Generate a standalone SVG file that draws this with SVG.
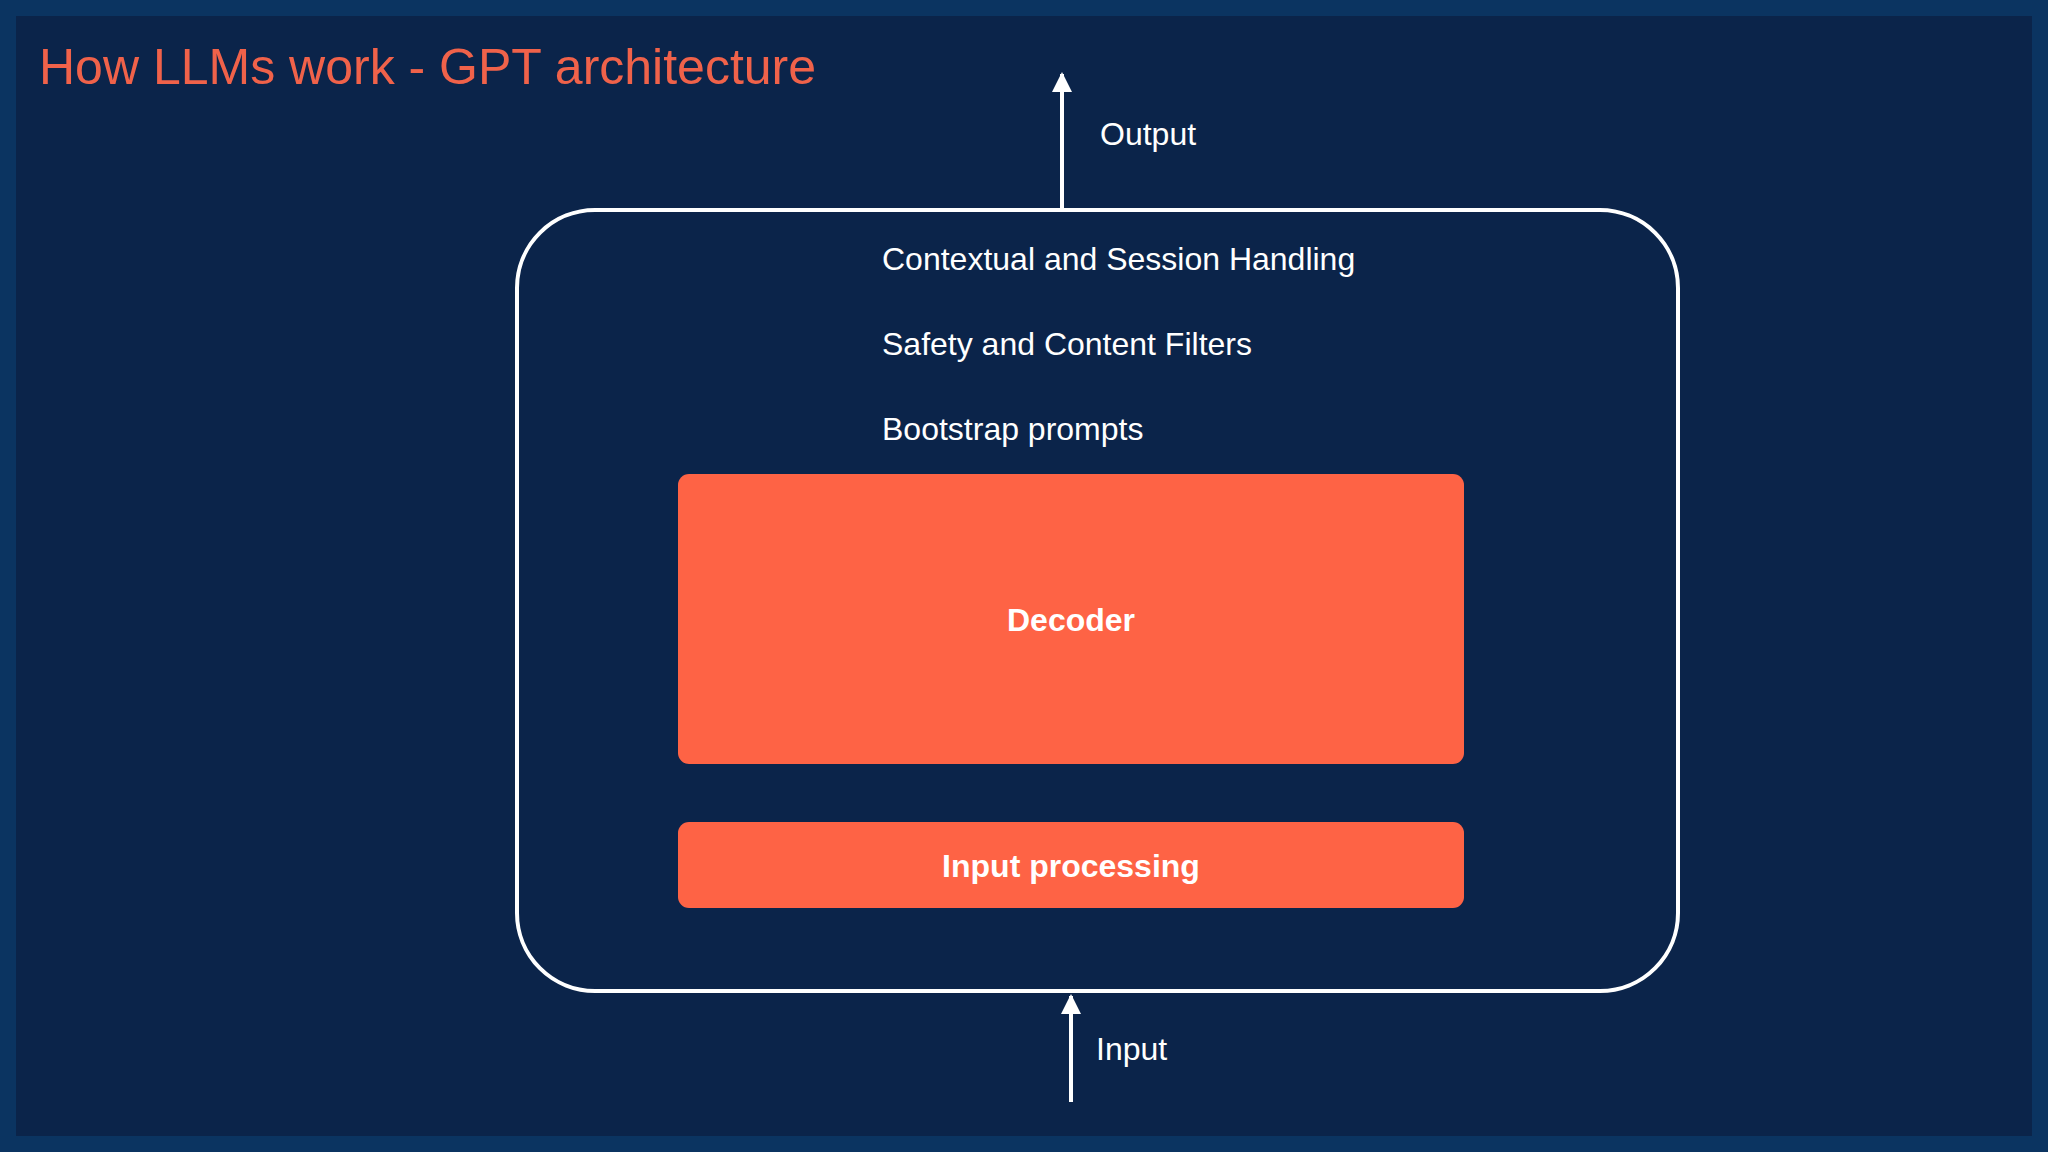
<svg xmlns="http://www.w3.org/2000/svg" width="2048" height="1152" viewBox="0 0 2048 1152">
<defs>
<style>
.t{font-family:"Helvetica Neue","Liberation Sans",Arial,sans-serif;fill:#fff}
.box{fill:#fe6345}
.ln{stroke:#fff;stroke-width:4;fill:none}
</style>
<marker id="ah" viewBox="0 0 10 10" refX="9" refY="5" markerWidth="5" markerHeight="5" orient="auto"><path d="M0,0L10,5L0,10z" fill="#fff"/></marker>
</defs>
<rect width="2048" height="1152" fill="#0b3461"/>
<rect x="16" y="16" width="2016" height="1120" fill="#0b244a"/>
<text x="39" y="84" font-family="Helvetica Neue,Liberation Sans,Arial,sans-serif" font-size="50" fill="#f0624a">How LLMs work - GPT architecture</text>
<g id="container"><rect x="517" y="210" width="1161" height="781" rx="78" class="ln"/></g>
<g id="labels">
<text class="t" x="882" y="270" font-size="32">Contextual and Session Handling</text>
<text class="t" x="882" y="355" font-size="32">Safety and Content Filters</text>
<text class="t" x="882" y="440" font-size="32">Bootstrap prompts</text>
</g>
<g id="decoder"><rect class="box" x="678" y="474" width="786" height="290" rx="11"/><text class="t" x="1071" y="631" font-size="32" font-weight="bold" text-anchor="middle">Decoder</text></g>
<g id="input-processing"><rect class="box" x="678" y="822" width="786" height="86" rx="11"/><text class="t" x="1071" y="877" font-size="32" font-weight="bold" text-anchor="middle">Input processing</text></g>
<g id="connectors">
<line class="ln" x1="1062" y1="210" x2="1062" y2="74" marker-end="url(#ah)"/>
<line class="ln" x1="1071" y1="1102" x2="1071" y2="996" marker-end="url(#ah)"/>
</g>
<text class="t" x="1100" y="145" font-size="32">Output</text>
<text class="t" x="1096" y="1060" font-size="32">Input</text>
</svg>
